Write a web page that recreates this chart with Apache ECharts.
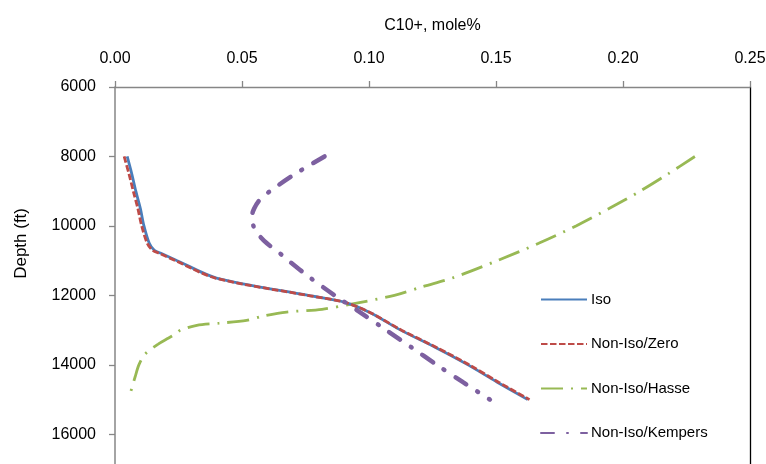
<!DOCTYPE html>
<html>
<head>
<meta charset="utf-8">
<script src="https://cdn.jsdelivr.net/npm/echarts@6/dist/echarts.min.js"></script>
<style>html,body{margin:0;padding:0;background:#fff;}#c{width:766px;height:464px;}</style>
</head>
<body>
<div id="c"></div>
<script>
const seriesNames = ['Iso', 'Non-Iso/Zero', 'Non-Iso/Hasse', 'Non-Iso/Kempers'];
const xTickLabels = ['0.00', '0.05', '0.10', '0.15', '0.20', '0.25'];
const yTickLabels = [6000, 8000, 10000, 12000, 14000, 16000, 18000];

const isoDepth = [8000, 8500, 9000, 9500, 10000, 10500, 10700, 10800, 11000, 11500, 12000, 12200, 12500, 13000, 13500, 14000, 14500, 15000];
const isoValue = [0.0048, 0.0066, 0.0082, 0.0100, 0.0114, 0.0135, 0.0155, 0.0185, 0.0245, 0.0400, 0.0761, 0.0906, 0.1005, 0.1125, 0.1262, 0.1390, 0.1505, 0.1625];

const zeroDepth = [8000, 8500, 9000, 9500, 10000, 10500, 10700, 10800, 11000, 11500, 12000, 12200, 12500, 13000, 13500, 14000, 14500, 15000];
const zeroValue = [0.0036, 0.0055, 0.0072, 0.0090, 0.0105, 0.0127, 0.0148, 0.0178, 0.0238, 0.0395, 0.0758, 0.0905, 0.1006, 0.1128, 0.1266, 0.1395, 0.1510, 0.1632];

const hasseDepth = [8000, 8500, 9000, 9500, 10000, 10500, 11000, 11500, 11750, 12000, 12250, 12400, 12480, 12600, 12720, 12800, 12860, 13000, 13100, 13250, 13400, 13700, 14000, 14350, 14850];
const hasseValue = [0.2283, 0.2178, 0.2067, 0.1945, 0.1815, 0.1668, 0.1505, 0.1328, 0.1210, 0.1100, 0.0930, 0.0815, 0.0676, 0.0580, 0.0518, 0.0410, 0.0322, 0.0258, 0.0240, 0.0205, 0.0170, 0.0117, 0.0094, 0.0079, 0.0059];

const kempDepth = [8000, 8500, 9000, 9250, 9500, 9750, 10000, 10250, 10500, 10750, 11000, 11500, 12000, 12500, 13000, 13500, 14000, 14500, 15000];
const kempValue = [0.0825, 0.0710, 0.0610, 0.0570, 0.0548, 0.0538, 0.0545, 0.0565, 0.0598, 0.0643, 0.0683, 0.0770, 0.0865, 0.0968, 0.1068, 0.1168, 0.1267, 0.1370, 0.1476];

function pairs(vals, deps) { return vals.map((v, i) => [v, deps[i]]); }

const font = 'Liberation Sans, Arial, sans-serif';
const chart = echarts.init(document.getElementById('c'), null, { renderer: 'canvas' });
chart.setOption({
  animation: false,
  backgroundColor: '#ffffff',
  textStyle: { fontFamily: font, color: '#000' },
  grid: { left: 115, top: 87, width: 635, height: 416.8, containLabel: false, outerBoundsMode: 'none' },
  xAxis: {
    type: 'value', position: 'top', min: 0, max: 0.25, interval: 0.05,
    name: 'C10+, mole%', nameLocation: 'middle', nameGap: 53,
    nameTextStyle: { fontSize: 16, color: '#000', fontFamily: font },
    axisLine: { show: true, lineStyle: { color: '#868686', width: 1.3 } },
    axisTick: { show: true, inside: false, length: 6, lineStyle: { color: '#868686', width: 1.3 } },
    axisLabel: { fontSize: 16, color: '#000', margin: 20, fontFamily: font,
      formatter: (v) => xTickLabels[Math.round(v / 0.05)] },
    splitLine: { show: false }
  },
  yAxis: [{
    type: 'value', inverse: true, min: 6000, max: 18000, interval: 2000,
    axisLine: { show: true, onZero: false, lineStyle: { color: '#868686', width: 1.5 } },
    axisTick: { show: true, inside: false, length: 6, lineStyle: { color: '#868686', width: 1.3 } },
    axisLabel: { fontSize: 16, color: '#000', margin: 19, fontFamily: font,
      formatter: (v) => String(yTickLabels[Math.round((v - 6000) / 2000)]) },
    splitLine: { show: false }
  }, {
    type: 'value', inverse: true, min: 6000, max: 18000, interval: 2000, position: 'right',
    axisLine: { show: true, onZero: false, lineStyle: { color: '#000', width: 1.3 } },
    axisTick: { show: false }, axisLabel: { show: false }, splitLine: { show: false }
  }],
  legend: {
    orient: 'vertical', left: 535, top: 287, itemWidth: 46, itemHeight: 16, itemGap: 29.5,
    itemStyle: { opacity: 0 },
    textStyle: { fontSize: 15, color: '#000', fontFamily: font, padding: [0, 0, 0, -1] },
    data: seriesNames
  },
  graphic: [{
    type: 'text', left: 13, top: 208,
    rotation: Math.PI / 2,
    style: { text: 'Depth (ft)', fontSize: 17, fontFamily: font, fill: '#000' }
  }],
  series: [
    { name: seriesNames[0], type: 'line', showSymbol: false, symbol: 'none', smooth: 0.3, z: 3,
      data: pairs(isoValue, isoDepth),
      lineStyle: { color: '#4A7EBB', width: 2.8 }, itemStyle: { color: '#4A7EBB' } },
    { name: seriesNames[1], type: 'line', showSymbol: false, symbol: 'none', smooth: 0.3, z: 4,
      data: pairs(zeroValue, zeroDepth),
      lineStyle: { color: '#BE4B48', width: 2.8, type: [6.5, 2.5] }, itemStyle: { color: '#BE4B48' } },
    { name: seriesNames[2], type: 'line', showSymbol: false, symbol: 'none', smooth: 0.3, z: 2,
      data: pairs(hasseValue, hasseDepth),
      lineStyle: { color: '#98B954', width: 2.8, type: [22, 8, 2, 8] }, itemStyle: { color: '#98B954' } },
    { name: seriesNames[3], type: 'line', showSymbol: false, symbol: 'none', smooth: 0.3, z: 5,
      data: pairs(kempValue, kempDepth),
      lineStyle: { color: '#7D60A0', width: 4.5, type: [13, 13, 1, 13], cap: 'round' }, itemStyle: { color: '#7D60A0' } }
  ]
});
</script>
</body>
</html>
